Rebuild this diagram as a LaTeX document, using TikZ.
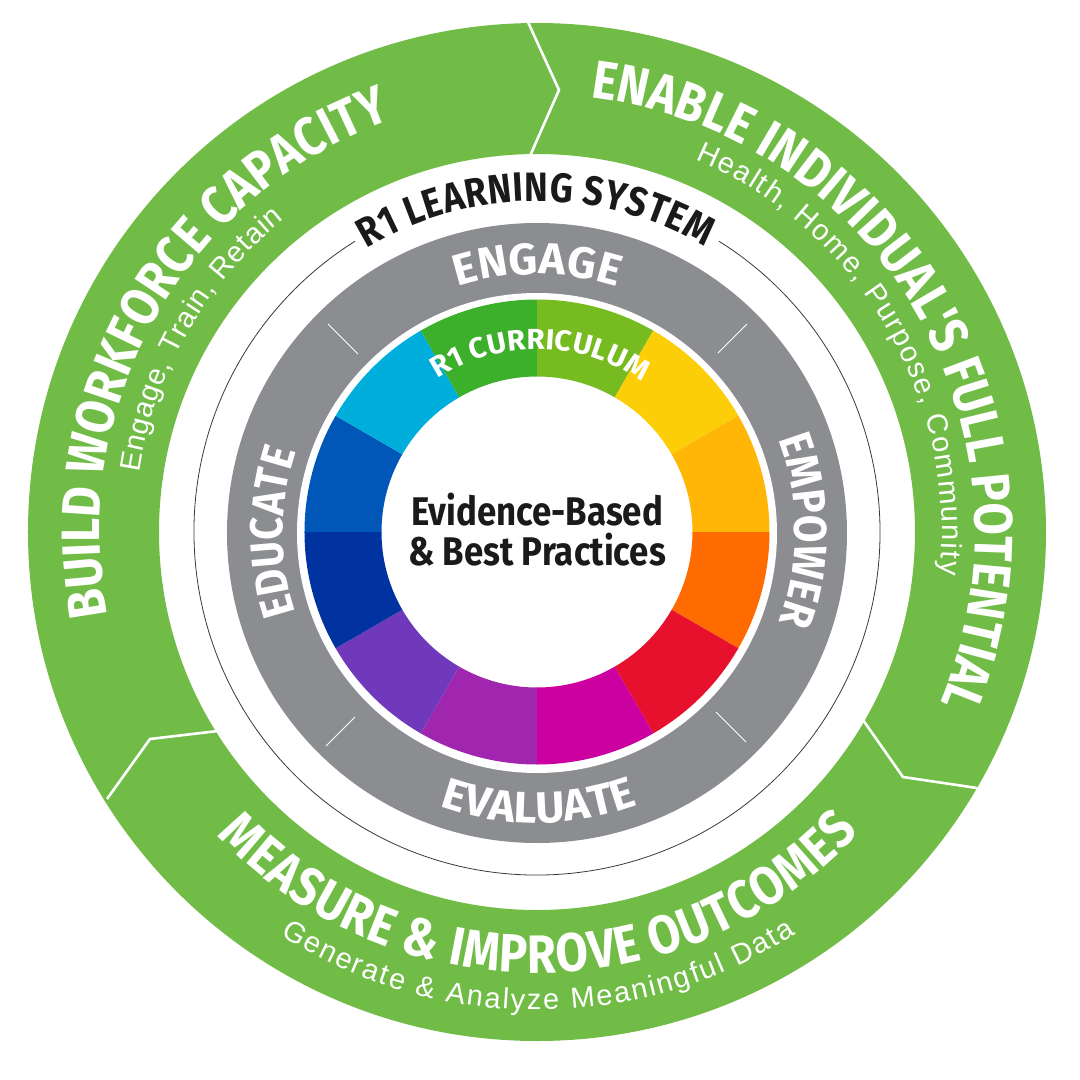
\documentclass[tikz,border=0pt]{standalone}
\usepackage{fontspec}
\usetikzlibrary{decorations.text}
\newfontfamily\headfont[FakeStretch=0.87]{Fira Sans}
\newfontfamily\wideface[FakeStretch=1.02]{Fira Sans}
\newfontfamily\subfont{Liberation Sans}
\definecolor{ringgreen}{HTML}{71BC47}
\definecolor{ringgray}{HTML}{8C8D91}
\definecolor{inkblack}{HTML}{1A1A1C}
\tikzset{
  divider/.style = { draw=white, line width=2.6pt, miter limit=10 },
  tick/.style    = { draw=white, line width=1pt },
}
\tikzset{
  curved/.style args={#1/#2/#3}{
    decorate,
    decoration={text along path, text color=#3, text align={fit to path},
      text={|#1|#2}}
  }
}
% font sizes
\newcommand{\bighead}{\headfont\bfseries\fontsize{54}{54}\selectfont}
\newcommand{\subhead}{\subfont\fontsize{29}{29}\selectfont}
\newcommand{\midhead}{\headfont\bfseries\fontsize{46}{46}\selectfont}
\newcommand{\widehead}{\wideface\bfseries\fontsize{44}{44}\selectfont}
\newcommand{\syshead}{\headfont\bfseries\fontsize{41}{41}\selectfont}
\newcommand{\wheelhead}{\wideface\bfseries\fontsize{29}{29}\selectfont}
\begin{document}
\begin{tikzpicture}[x=1pt,y=1pt]
  \useasboundingbox (-537,-548) rectangle (543,532);
  % outer ring
  \fill [ringgreen, even odd rule] (0,0) circle (509) (0,0) circle (378);
  \draw [divider] (-9,510) -- (22,442) -- (-7,376);
  \draw [divider] (326,-188) -- (366,-245) -- (440,-256);
  \draw [divider] (-319,-199) -- (-387,-207) -- (-430,-267);
  % thin circle
  \draw [ringgray!40!black, line width=0.8pt] (58:343) arc (58:-238:343);
  % gray ring
  \fill [ringgray] (0,-1) circle (310);
  \fill [white] (0,-1) circle (240);
  % colour wheel
  \foreach \from/\col in {60/76BC21,30/FBCE07,0/FFB607,-30/FF6B00,-60/E8112D,-90/CC00A0,
      -120/A026B0,-150/7039BC,-180/0033A0,-210/0057B8,-240/00AEDB,-270/3CB02B} {
    \definecolor{segcol}{HTML}{\col}
    \fill [segcol] (\from:232.5) arc (\from:\from+30:232.5) -- (\from+30:155.5) arc (\from+30:\from:155.5) -- cycle;
  }
  % ticks
  \draw [tick] (-209,208) -- (-179,178);
  \draw [tick] (210,208) -- (181,179);
  \draw [tick] (-182,-185) -- (-211,-214);
  \draw [tick] (179,-180) -- (209,-210);
  % centre
  \node (centre) [align=center, text=inkblack, font=\headfont\bfseries\fontsize{40}{40}\selectfont] at (0,2)
    {Evidence-Based\\\& Best Practices};
  % curved texts
  \path [curved={\bighead/ENABLE INDIVIDUAL'S FULL POTENTIAL/white}] (83:438) arc (83:-23:438);
  \path [curved={\subhead/Health, Home, Purpose, Community/white}] (67:405) arc (67:-6:405);
  \path [curved={\bighead/BUILD WORKFORCE CAPACITY/white}] (191:437) arc (191:110:437);
  \path [curved={\subhead/Engage, Train, Retain/white}] (171.5:402) arc (171.5:129:402);
  \path [curved={\bighead/MEASURE {\&} IMPROVE OUTCOMES/white}] (223.5:441) arc (223.5:317:441);
  \path [curved={\subhead/Generate {\&} Analyze Meaningful Data/white}] (237.5:478) arc (237.5:302.8:478);
  \path [curved={\syshead/R1 LEARNING SYSTEM/inkblack}] (121:331) arc (121:59.5:331);
  \path [curved={\widehead/ENGAGE/white}] (108:258) arc (108:72:258);
  \path [curved={\widehead/EVALUATE/white}] (250.5:291) arc (250.5:290:291);
  \path [curved={\midhead/EDUCATE/white}] (198.5:254) arc (198.5:161.5:254);
  \path [curved={\midhead/EMPOWER/white}] (21:258) arc (21:-20.5:258);
  \path [curved={\wheelhead/R1 CURRICULUM/white}] (123:183) arc (123:55:183);
\end{tikzpicture}
\end{document}
